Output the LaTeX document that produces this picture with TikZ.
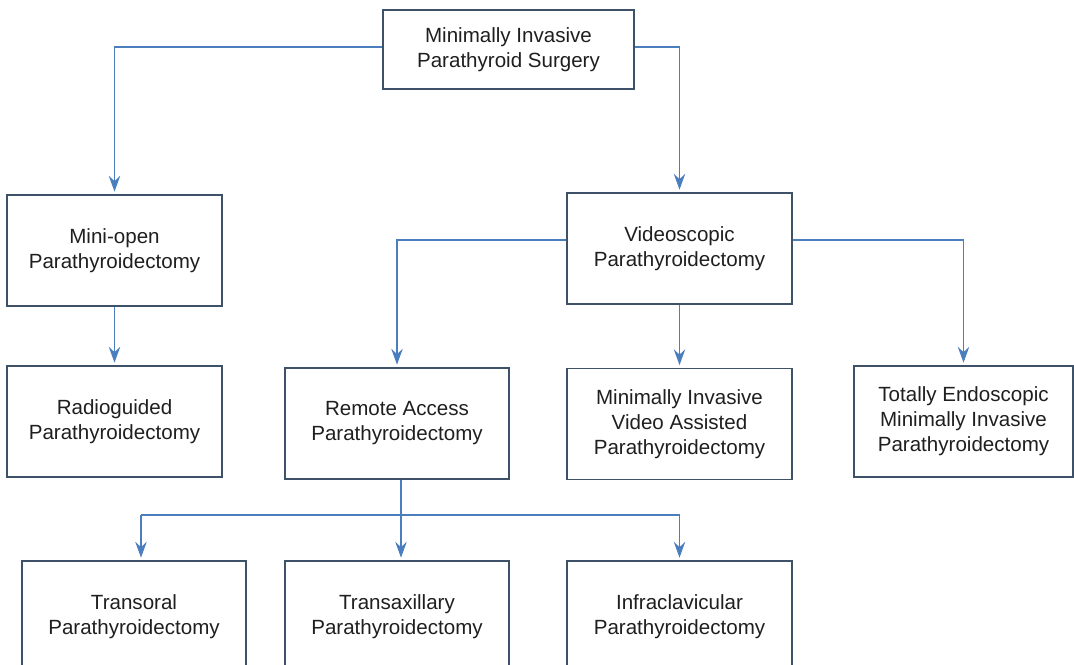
\documentclass[tikz,border=0pt]{standalone}
\usepackage{fontspec}
\setmainfont{Liberation Sans}
\usetikzlibrary{arrows.meta}
\definecolor{boxline}{HTML}{3D5168}
\definecolor{linkblue}{HTML}{4A7EBF}
\tikzset{
  box/.style={draw=boxline, line width=0.8pt, fill=white, align=center, inner sep=2pt,
    font=\fontsize{11.7pt}{14.2pt}\selectfont, text=black!88},
  link/.style={draw=linkblue, line width=0.8pt, -{Stealth[length=9pt,width=6.5pt,inset=3pt]}, shorten >=1.5pt},
  bus/.style={draw=linkblue, line width=0.8pt}
}
\begin{document}
\begin{tikzpicture}[x=0.02cm, y=-0.02cm]
                \useasboundingbox (0,0) rectangle (1074,665);
                \node[box, minimum width=5.02cm, minimum height=1.58cm] (mips) at (508.5,49.5) {Minimally Invasive\\Parathyroid Surgery};
                \node[box, minimum width=4.3cm, minimum height=2.22cm] (mini) at (114.5,250.5) {Mini-open\\Parathyroidectomy};
                \node[box, minimum width=4.5cm, minimum height=2.22cm] (video) at (679.5,248.5) {Videoscopic\\Parathyroidectomy};
                \node[box, minimum width=4.3cm, minimum height=2.22cm] (radio) at (114.5,421.5) {Radioguided\\Parathyroidectomy};
                \node[box, minimum width=4.48cm, minimum height=2.22cm] (remote) at (397,423.5) {Remote Access\\Parathyroidectomy};
                \node[box, minimum width=4.5cm, minimum height=2.22cm] (mivap) at (679.5,424) {Minimally Invasive\\Video Assisted\\Parathyroidectomy};
                \node[box, minimum width=4.38cm, minimum height=2.22cm] (temip) at (963.5,421.5) {Totally Endoscopic\\Minimally Invasive\\Parathyroidectomy};
                \node[box, minimum width=4.48cm, minimum height=2.22cm] (transoral) at (134,616.5) {Transoral\\Parathyroidectomy};
                \node[box, minimum width=4.48cm, minimum height=2.22cm] (transax) at (397,616.5) {Transaxillary\\Parathyroidectomy};
                \node[box, minimum width=4.5cm, minimum height=2.22cm] (infra) at (679.5,616.5) {Infraclavicular\\Parathyroidectomy};
                \coordinate (split) at (401,515);
                \coordinate (leftdrop) at (141,515);

                \draw[link] ([yshift=0.05cm]mips.west) -| (mini.north);
                \draw[link] ([yshift=0.05cm]mips.east) -| (video.north);
                \draw[link] (mini.south) -- (radio.north);
                \draw[link] ([yshift=0.17cm]video.west) -| (remote.north);
                \draw[link] ([yshift=0.17cm]video.east) -| (temip.north);
                \draw[link] (video.south) -- (mivap.north);
                \draw[bus] (remote.south -| split) -- (split);
                \draw[bus] (leftdrop) -- (infra.north |- split);
                \draw[link] (leftdrop) -- (leftdrop |- transoral.north);
                \draw[link] (split) -- (split |- transax.north);
                \draw[link] (infra.north |- split) -- (infra.north);
            \end{tikzpicture}
\end{document}
